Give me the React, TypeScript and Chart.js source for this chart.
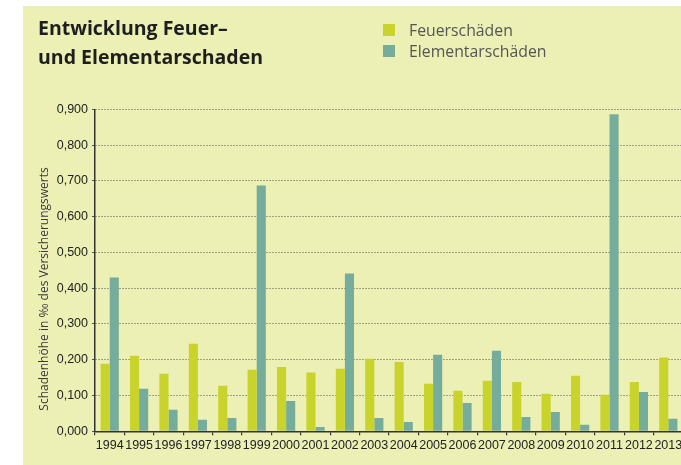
import React, { useEffect, useRef } from "react";
import { Chart, registerables } from "chart.js";

Chart.register(...registerables);

const years = ["1994","1995","1996","1997","1998","1999","2000","2001","2002","2003","2004","2005","2006","2007","2008","2009","2010","2011","2012","2013"];
const feuer = [0.189,0.211,0.161,0.245,0.127,0.172,0.180,0.164,0.175,0.203,0.194,0.133,0.113,0.141,0.138,0.105,0.155,0.102,0.138,0.206];
const elementar = [0.430,0.119,0.060,0.032,0.037,0.687,0.085,0.012,0.441,0.037,0.026,0.214,0.079,0.225,0.040,0.054,0.018,0.886,0.110,0.035];
const seriesNames = ["Feuerschäden", "Elementarschäden"];
const seriesColors = ["#c8d32b", "#76ac9c"];
const titleLines = ["Entwicklung Feuer–", "und Elementarschaden"];
const yTitle = "Schadenhöhe in ‰ des Versicherungswerts";

const BG = "#edf0b4";
const FONT = "'Open Sans', 'Liberation Sans', Arial, sans-serif";
const TICKFONT = "'Liberation Sans', Arial, sans-serif";

const yTitlePlugin = {
  id: "yTitlePlugin",
  afterDraw(chart: any) {
    const ctx = chart.ctx;
    ctx.save();
    ctx.translate(22, 283);
    ctx.rotate(-Math.PI / 2);
    ctx.font = `12px ${FONT}`;
    ctx.fillStyle = "#3a3a3a";
    ctx.textAlign = "center";
    ctx.textBaseline = "middle";
    ctx.fillText(yTitle, 0, 0);
    ctx.restore();
  },
};

export default function App() {
  const ref = useRef<HTMLCanvasElement | null>(null);
  useEffect(() => {
    if (!ref.current) return;
    const chart = new Chart(ref.current, {
      type: "bar",
      data: {
        labels: years,
        datasets: [
          { label: seriesNames[0], data: feuer, backgroundColor: seriesColors[0], barPercentage: 1, categoryPercentage: 0.62 },
          { label: seriesNames[1], data: elementar, backgroundColor: seriesColors[1], barPercentage: 1, categoryPercentage: 0.62 },
        ],
      },
      options: {
        animation: false,
        responsive: false,
        maintainAspectRatio: false,
        layout: { padding: { top: 103.3, left: 0, right: 4, bottom: 0 } },
        plugins: { legend: { display: false }, title: { display: false }, tooltip: { enabled: false } },
        scales: {
          x: {
            offset: true,
            grid: { display: true, drawOnChartArea: false, drawTicks: true, tickLength: 4, color: "#333", lineWidth: 1.2, offset: true },
            border: { display: true, color: "#333", width: 1.5 },
            ticks: { color: "#222", font: { family: TICKFONT, size: 12.5 }, padding: 3, maxRotation: 0, autoSkip: false },
            afterFit: (s: any) => { s.height = 33.7; },
          },
          y: {
            min: 0,
            max: 0.9,
            grid: { color: "#555", lineWidth: 1, tickLength: 3 },
            border: { display: true, color: "#333", width: 1.5, dash: [1, 2] },
            ticks: {
              stepSize: 0.1,
              color: "#222",
              font: { family: TICKFONT, size: 12.5 },
              padding: 4,
              callback: (v: any) => Number(v).toFixed(3).replace(".", ","),
            },
            afterFit: (s: any) => { s.width = 72; },
          },
        },
      },
      plugins: [yTitlePlugin],
    });
    return () => chart.destroy();
  }, []);

  return (
    <div style={{ position: "absolute", left: 0, top: 0, width: 681, height: 465, overflow: "hidden", background: "#fff" }}>
      <div style={{ position: "absolute", left: 23, top: 6, width: 658, height: 459, background: BG, overflow: "hidden" }}>
        <canvas ref={ref} width={664} height={459} style={{ position: "absolute", left: 0, top: 0, width: 664, height: 459 }} />
        <div style={{ position: "absolute", left: 15, top: 7, fontFamily: FONT, fontWeight: "bold", fontSize: 19.5, lineHeight: "29px", color: "#1e1e1e", whiteSpace: "nowrap" }}>
          {titleLines.map((t, i) => (<div key={i}>{t}</div>))}
        </div>
        <div style={{ position: "absolute", left: 360, top: 13, fontFamily: FONT, fontSize: 15.8, color: "#555", whiteSpace: "nowrap" }}>
          {seriesNames.map((n, i) => (
            <div key={i} style={{ display: "flex", alignItems: "center", height: 21.5 }}>
              <span style={{ display: "inline-block", width: 12, height: 12, background: seriesColors[i], marginRight: 14 }} />
              <span>{n}</span>
            </div>
          ))}
        </div>
      </div>
    </div>
  );
}
